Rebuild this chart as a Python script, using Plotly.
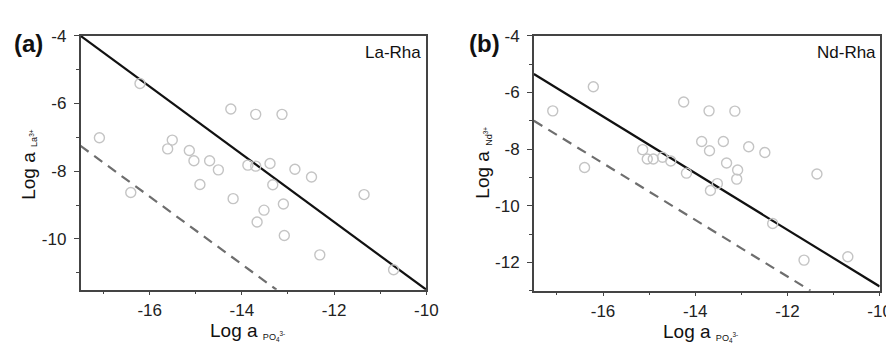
import plotly.graph_objects as go

# ---- data ----
la_x = [-16.21, -17.09, -14.24, -13.70, -13.13, -15.51, -15.61, -15.14, -15.04, -14.70,
        -14.51, -14.91, -16.41, -14.19, -13.87, -13.70, -13.39, -12.85, -12.49, -13.33,
        -13.10, -13.52, -13.67, -13.08, -12.31, -11.35, -10.71]
la_y = [-5.41, -7.01, -6.16, -6.32, -6.32, -7.08, -7.34, -7.39, -7.69, -7.69,
        -7.96, -8.39, -8.63, -8.81, -7.82, -7.85, -7.77, -7.94, -8.17, -8.40,
        -8.97, -9.15, -9.50, -9.90, -10.47, -8.69, -10.91]

nd_x = [-16.21, -17.09, -14.25, -13.70, -13.14, -13.86, -13.69, -13.39, -12.84, -12.49,
        -15.14, -15.04, -14.91, -14.71, -14.53, -16.40, -14.19, -13.32, -13.08, -13.10,
        -13.52, -13.67, -12.32, -11.36, -11.64, -10.69]
nd_y = [-5.80, -6.65, -6.34, -6.65, -6.66, -7.73, -8.06, -7.73, -7.92, -8.12,
        -8.02, -8.35, -8.35, -8.29, -8.42, -8.65, -8.85, -8.49, -8.74, -9.06,
        -9.22, -9.46, -10.63, -8.88, -11.92, -11.80]

la_solid_x = [-17.5, -10.0]
la_solid_y = [-4.0, -11.5]
la_dash_x = [-17.5, -13.25]
la_dash_y = [-7.25, -11.5]

nd_solid_x = [-17.5, -10.0]
nd_solid_y = [-5.35, -12.85]
nd_dash_x = [-17.5, -11.5]
nd_dash_y = [-7.0, -13.0]

x_ticks = [-16, -14, -12, -10]
la_y_ticks = [-4, -6, -8, -10]
nd_y_ticks = [-4, -6, -8, -10, -12]

W, H = 894, 346
FONT = "Liberation Sans, Arial, sans-serif"
marker = dict(symbol="circle-open", size=10, color="#c4c4c4", line=dict(width=1.4, color="#c4c4c4"))

fig = go.Figure()
for xa, ya, px_, py_, sx, sy, dx, dy in [
    ("x", "y", la_x, la_y, la_solid_x, la_solid_y, la_dash_x, la_dash_y),
    ("x2", "y2", nd_x, nd_y, nd_solid_x, nd_solid_y, nd_dash_x, nd_dash_y),
]:
    fig.add_trace(go.Scatter(x=dx, y=dy, mode="lines", xaxis=xa, yaxis=ya,
                             line=dict(color="#6e6e6e", width=2.2, dash="10px,7px"), showlegend=False))
    fig.add_trace(go.Scatter(x=sx, y=sy, mode="lines", xaxis=xa, yaxis=ya,
                             line=dict(color="#111111", width=2.2), showlegend=False))
    fig.add_trace(go.Scatter(x=px_, y=py_, mode="markers", xaxis=xa, yaxis=ya,
                             marker=marker, showlegend=False, cliponaxis=False))

def xax(domain, anchor):
    return dict(domain=domain, anchor=anchor, range=[-17.5, -10], tickvals=x_ticks,
                ticktext=[str(v) for v in x_ticks], ticks="outside", ticklen=4, tickwidth=1.2,
                tickcolor="#444", showline=True, linecolor="#444", linewidth=1.5, mirror=True,
                showgrid=False, zeroline=False, tickfont=dict(size=17, color="#222", family=FONT),
                minor=dict(dtick=1, tick0=-17, ticks="outside", ticklen=3, tickcolor="#444", tickwidth=1))

def yax(domain, anchor, rng, ticks):
    return dict(domain=domain, anchor=anchor, range=rng, tickvals=ticks,
                ticktext=[str(v) for v in ticks], ticks="outside", ticklen=5, tickwidth=1.2,
                tickcolor="#444", showline=True, linecolor="#444", linewidth=1.5, mirror=True,
                showgrid=False, zeroline=False, tickfont=dict(size=17, color="#222", family=FONT),
                ticklabelstandoff=4,
                minor=dict(dtick=1, tick0=-5, ticks="outside", ticklen=3, tickcolor="#444", tickwidth=1))

ytop = 1 - 19.3 / H
fig.update_layout(
    width=W, height=H, margin=dict(l=0, r=0, t=0, b=0),
    paper_bgcolor="white", plot_bgcolor="white",
    font=dict(family=FONT, color="#222"),
    xaxis=xax([73.5 / W, 424 / W], "y"),
    yaxis=yax([1 - 280 / H, ytop], "x", [-11.5, -4], la_y_ticks),
    xaxis2=xax([533 / W, 883.5 / W], "y2"),
    yaxis2=yax([1 - 281 / H, ytop], "x2", [-13, -4], nd_y_ticks),
)

ann = []
def a(text, x, y, size, **kw):
    d = dict(text=text, x=x / W, y=1 - y / H, xref="paper", yref="paper", showarrow=False,
             xanchor="center", yanchor="middle",
             font=dict(size=size, family=FONT, color="#111"))
    d.update(kw)
    ann.append(d)

SUB = "<span style='font-size:13px'><sub>%s</sub></span>"
a("<b>(a)</b>", 21, 27, 24)
a("<b>(b)</b>", 483, 27, 24)
a("La-Rha", 421, 36, 17, xanchor="right")
a("Nd-Rha", 882, 36, 17, xanchor="right")
a("Log a " + SUB % "La<sup>3+</sup>", 21, 152, 19, textangle=-90)
a("Log a " + SUB % "Nd<sup>3+</sup>", 482, 150, 19, textangle=-90)
a("Log a " + SUB % "PO<sub>4</sub><sup>3-</sup>", 243, 323, 19)
a("Log a " + SUB % "PO<sub>4</sub><sup>3-</sup>", 702, 324, 19)
fig.update_layout(annotations=ann)

fig.write_html("out.html")
